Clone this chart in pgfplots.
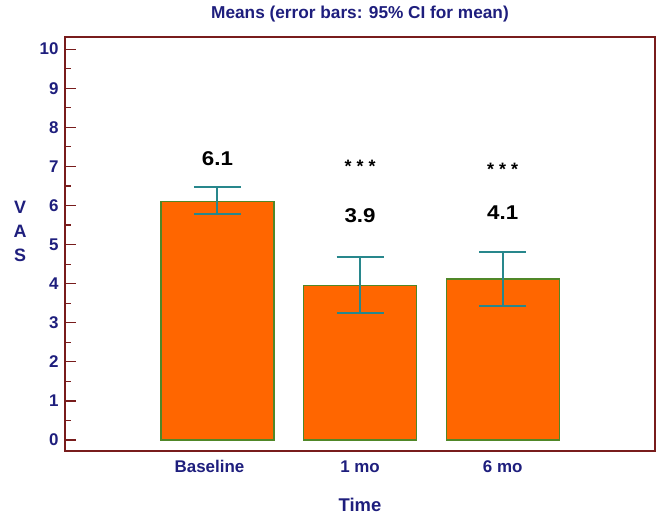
\documentclass[border=0pt]{standalone}
\usepackage{pgfplots}
\pgfplotsset{compat=1.18}
\usepackage{fontspec}
\setmainfont{Liberation Sans}
\usetikzlibrary{calc}

\definecolor{navy}{RGB}{30,30,125}
\definecolor{boxred}{RGB}{120,28,28}
\definecolor{barorange}{RGB}{255,102,0}
\definecolor{bargreen}{RGB}{80,135,40}
\definecolor{errteal}{RGB}{40,135,140}

\begin{document}
\begin{tikzpicture}
\begin{axis}[
    name=ax,
    scale only axis,
    width=590bp, height=414bp,
    ybar,
    bar width=113bp,
    xmin=-1.069, xmax=3.068,
    ymin=-0.28, ymax=10.31,
    xtick=data,
    xticklabels={Baseline\hspace*{16bp},1 mo,6 mo},
    ytick={0,1,...,10},
    minor y tick num=1,
    ytick pos=left,
    tick align=inside,
    major tick length=11bp,
    minor tick length=6bp,
    x tick style={draw=none},
    y tick style={draw=boxred, line width=1.2bp},
    axis line style={draw=boxred, line width=1.6bp},
    /pgf/number format/assume math mode=true,
    tick label style={font=\fontsize{17}{19}\selectfont\bfseries, text=navy},
    xticklabel style={yshift=-6bp},
    yticklabel style={xshift=-3bp},
    title={Means (error bars: 95\% CI for mean)},
    title style={font=\fontsize{17.3}{19}\selectfont\bfseries, text=navy,
      at={(axis description cs:0.5,1)}, anchor=center, yshift=17bp},
    xlabel={Time},
    xlabel style={font=\fontsize{18.5}{20}\selectfont\bfseries, text=navy,
      at={(axis description cs:0.5,0)}, anchor=center, yshift=-54bp},
    ylabel={V\\A\\S},
    ylabel style={rotate=-90, align=center, font=\fontsize{18}{24}\selectfont\bfseries, text=navy,
      at={(axis description cs:0,0.531)}, anchor=center, xshift=-45bp},
    clip=false,
]
\addplot[
    fill=barorange, draw=bargreen, line width=1.3bp,
    error bars/.cd,
      y dir=both, y explicit,
      error mark=|,
      error bar style={draw=errteal, line width=2bp},
      error mark options={draw=errteal, line width=2bp, mark size=23.5bp},
] coordinates {
    (0,6.11) += (0,0.36) -= (0,0.33)
    (1,3.95) += (0,0.73) -= (0,0.69)
    (2,4.12) += (0,0.68) -= (0,0.69)
};
\node[font=\fontsize{20}{22}\selectfont\bfseries, xscale=1.12] at (axis cs:0,7.21) {6.1};
\node[font=\fontsize{20}{22}\selectfont\bfseries, xscale=1.12] at (axis cs:1,5.75) {3.9};
\node[font=\fontsize{20}{22}\selectfont\bfseries, xscale=1.12] at (axis cs:2,5.81) {4.1};
\node[font=\fontsize{18}{20}\selectfont\bfseries] at (axis cs:1,7.0) {* * *};
\node[font=\fontsize{18}{20}\selectfont\bfseries] at (axis cs:2,6.92) {* * *};
\end{axis}
\path[use as bounding box] ($(ax.south west)+(-65bp,-61bp)$) rectangle ($(ax.north east)+(3bp,37bp)$);
\end{tikzpicture}
\end{document}
